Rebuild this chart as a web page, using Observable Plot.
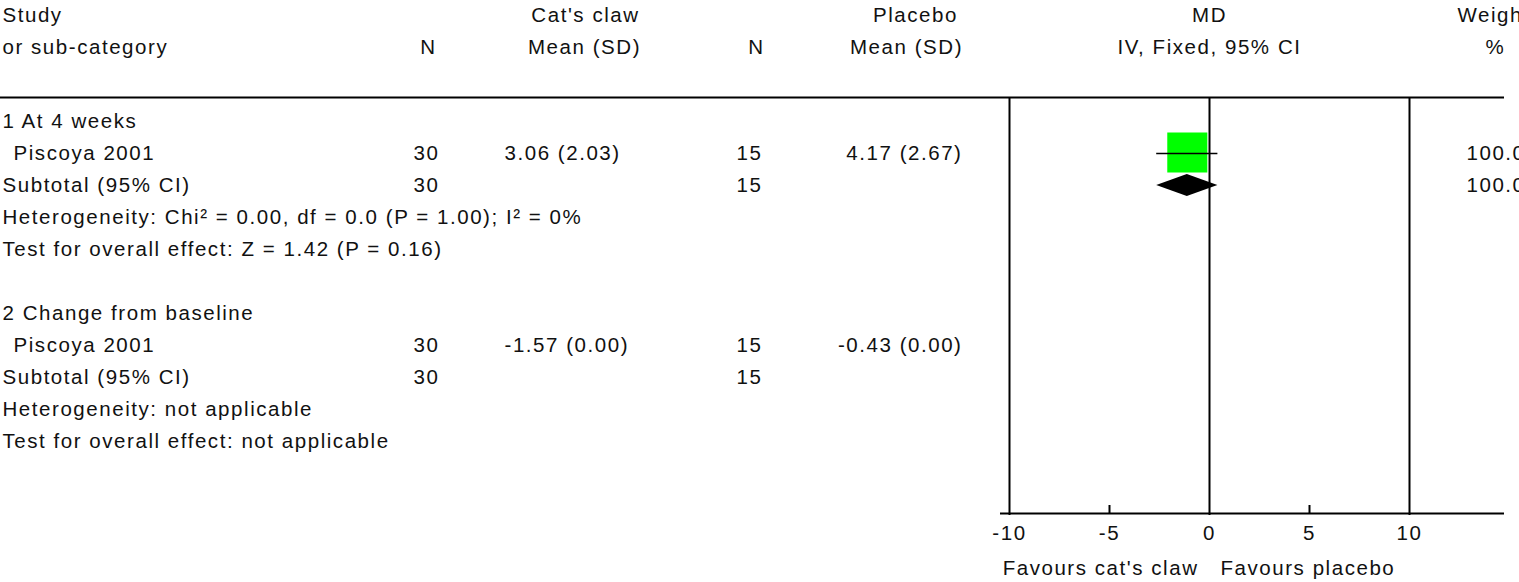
<!DOCTYPE html>
<html>
<head>
<meta charset="utf-8">
<script src="https://cdn.jsdelivr.net/npm/d3@7"></script>
<script src="https://cdn.jsdelivr.net/npm/@observablehq/plot@0.6"></script>
<style>
  html, body { margin: 0; padding: 0; background: #fff; overflow: hidden; }
  #wrap { width: 1519px; height: 582px; overflow: hidden; }
  #wrap svg { max-width: none !important; letter-spacing: 1.55px; }
</style>
</head>
<body>
<div id="wrap"></div>
<script>
// ---- data ----
const rowLabels = [
  "1 At 4 weeks",
  "Piscoya 2001",
  "Subtotal (95% CI)",
  "Heterogeneity: Chi\u00b2 = 0.00, df = 0.0 (P = 1.00); I\u00b2 = 0%",
  "Test for overall effect: Z = 1.42 (P = 0.16)",
  "",
  "2 Change from baseline",
  "Piscoya 2001",
  "Subtotal (95% CI)",
  "Heterogeneity: not applicable",
  "Test for overall effect: not applicable"
];
const rowIndent = [false, true, false, false, false, false, false, true, false, false, false];
const catN    = ["", "30", "30", "", "", "", "", "30", "30", "", ""];
const catMean = ["", "3.06 (2.03)", "", "", "", "", "", "-1.57 (0.00)", "", "", ""];
const plaN    = ["", "15", "15", "", "", "", "", "15", "15", "", ""];
const plaMean = ["", "4.17 (2.67)", "", "", "", "", "", "-0.43 (0.00)", "", "", ""];
const weightPct = ["", "100.0", "100.0", "", "", "", "", "", "", "", ""];

// effect estimates (MD, 95% CI)
const studyRows = [1];
const studyMD = [-1.11];
const studyLo = [-2.64];
const studyHi = [0.42];
const subtotalRows = [2];
const subtotalMD = [-1.11];
const subtotalLo = [-2.64];
const subtotalHi = [0.42];

const tickValues = [-10, -5, 0, 5, 10];
const fullLineValues = [-10, 0, 10];
const minorTickValues = [-5, 5];
const favoursLeft = "Favours cat's claw";
const favoursRight = "Favours placebo";

const headerLine1 = {study: "Study", cat: "Cat's claw", pla: "Placebo", md: "MD", weight: "Weight"};
const headerLine2 = {study: "or sub-category", catN: "N", catMean: "Mean (SD)", plaN: "N", plaMean: "Mean (SD)", md: "IV, Fixed, 95% CI", weight: "%"};

// ---- build tables ----
const rows = rowLabels.map((label, i) => ({
  row: i, label, indent: rowIndent[i],
  catN: catN[i], catMean: catMean[i], plaN: plaN[i], plaMean: plaMean[i], weight: weightPct[i]
}));
const studies = studyRows.map((r, i) => ({row: r, md: studyMD[i], lo: studyLo[i], hi: studyHi[i]}));
const subtotals = subtotalRows.map((r, i) => ({row: r, md: subtotalMD[i], lo: subtotalLo[i], hi: subtotalHi[i]}));
const diamondHalf = 0.34;
const diamondPts = subtotals.flatMap(d => [
  {x: d.lo, y1: d.row, y2: d.row},
  {x: d.md, y1: d.row - diamondHalf, y2: d.row + diamondHalf},
  {x: d.hi, y1: d.row, y2: d.row}
]);

// ---- layout ----
const W = 1519, H = 582, ML = 1009, MR = 110;
const col = x => x - ML; // dx relative to left edge of plot frame
const R_H1 = -3.3125, R_H2 = -2.3125, R_TOP = -0.75, R_AXIS = 12.25, R_TICKLBL = 12.875, R_FAV = 13.97;
const lineLeft = -60.45, lineRight = 14.75, axisLeft = -10.45;
const txt = {fill: "#111", fontSize: 20.5, fontFamily: "'Liberation Sans', Arial, sans-serif"};

const chart = Plot.plot({
  width: W, height: H,
  marginLeft: ML, marginRight: MR, marginTop: 0, marginBottom: 0,
  x: {domain: [-10, 10], range: [ML, W - MR], axis: null},
  y: {domain: [-3.78125, 14.40625], range: [0, H], axis: null},
  style: {background: "#fff", overflow: "hidden"},
  marks: [
    // header
    Plot.text([headerLine1.study], {y: R_H1, frameAnchor: "left", dx: col(2), textAnchor: "start", ...txt}),
    Plot.text([headerLine2.study], {y: R_H2, frameAnchor: "left", dx: col(2), textAnchor: "start", ...txt}),
    Plot.text([headerLine1.cat], {y: R_H1, frameAnchor: "left", dx: col(585), textAnchor: "middle", ...txt}),
    Plot.text([headerLine2.catN], {y: R_H2, frameAnchor: "left", dx: col(428), textAnchor: "middle", ...txt}),
    Plot.text([headerLine2.catMean], {y: R_H2, frameAnchor: "left", dx: col(584), textAnchor: "middle", ...txt}),
    Plot.text([headerLine1.pla], {y: R_H1, frameAnchor: "left", dx: col(915), textAnchor: "middle", ...txt}),
    Plot.text([headerLine2.plaN], {y: R_H2, frameAnchor: "left", dx: col(756), textAnchor: "middle", ...txt}),
    Plot.text([headerLine2.plaMean], {y: R_H2, frameAnchor: "left", dx: col(906), textAnchor: "middle", ...txt}),
    Plot.text([headerLine1.md], {x: 0, y: R_H1, textAnchor: "middle", ...txt}),
    Plot.text([headerLine2.md], {x: 0, y: R_H2, textAnchor: "middle", ...txt}),
    Plot.text([headerLine1.weight], {y: R_H1, frameAnchor: "left", dx: col(1457), textAnchor: "start", ...txt}),
    Plot.text([headerLine2.weight], {y: R_H2, frameAnchor: "left", dx: col(1495), textAnchor: "middle", ...txt}),

    // horizontal rules
    Plot.ruleY([R_TOP], {x1: lineLeft, x2: lineRight, stroke: "#000", strokeWidth: 2}),
    Plot.ruleY([R_AXIS], {x1: axisLeft, x2: lineRight, stroke: "#000", strokeWidth: 2}),
    // vertical lines at -10, 0, 10
    Plot.ruleX(fullLineValues, {y1: R_TOP, y2: R_AXIS + 0.06, stroke: "#000", strokeWidth: 2}),
    Plot.ruleX(minorTickValues, {y1: R_AXIS - 0.25, y2: R_AXIS, stroke: "#000", strokeWidth: 2}),
    Plot.text(tickValues, {x: d => d, y: R_TICKLBL, text: d => String(d), textAnchor: "middle", ...txt}),
    Plot.text([favoursLeft], {x: 0, y: R_FAV, dx: -11, textAnchor: "end", ...txt}),
    Plot.text([favoursRight], {x: 0, y: R_FAV, dx: 11, textAnchor: "start", ...txt}),

    // table body
    Plot.text(rows.filter(d => !d.indent), {y: "row", text: "label", frameAnchor: "left", dx: col(2), textAnchor: "start", ...txt}),
    Plot.text(rows.filter(d => d.indent), {y: "row", text: "label", frameAnchor: "left", dx: col(13), textAnchor: "start", ...txt}),
    Plot.text(rows, {y: "row", text: "catN", frameAnchor: "left", dx: col(439), textAnchor: "end", ...txt}),
    Plot.text(rows, {y: "row", text: "catMean", frameAnchor: "left", dx: col(504), textAnchor: "start", ...txt}),
    Plot.text(rows, {y: "row", text: "plaN", frameAnchor: "left", dx: col(762), textAnchor: "end", ...txt}),
    Plot.text(rows, {y: "row", text: "plaMean", frameAnchor: "left", dx: col(962), textAnchor: "end", ...txt}),
    Plot.text(rows, {y: "row", text: "weight", frameAnchor: "left", dx: col(1466), textAnchor: "start", ...txt}),

    // effects
    Plot.dot(studies, {x: "md", y: "row", symbol: "square", r: 22.6, fill: "#00ff00", stroke: null, dy: -1}),
    Plot.ruleY(studies, {y: "row", x1: "lo", x2: "hi", stroke: "#000", strokeWidth: 1.5}),
    Plot.areaY(diamondPts, {x: "x", y1: "y1", y2: "y2", fill: "#000", curve: "linear"})
  ]
});
document.getElementById("wrap").appendChild(chart);
</script>
</body>
</html>
